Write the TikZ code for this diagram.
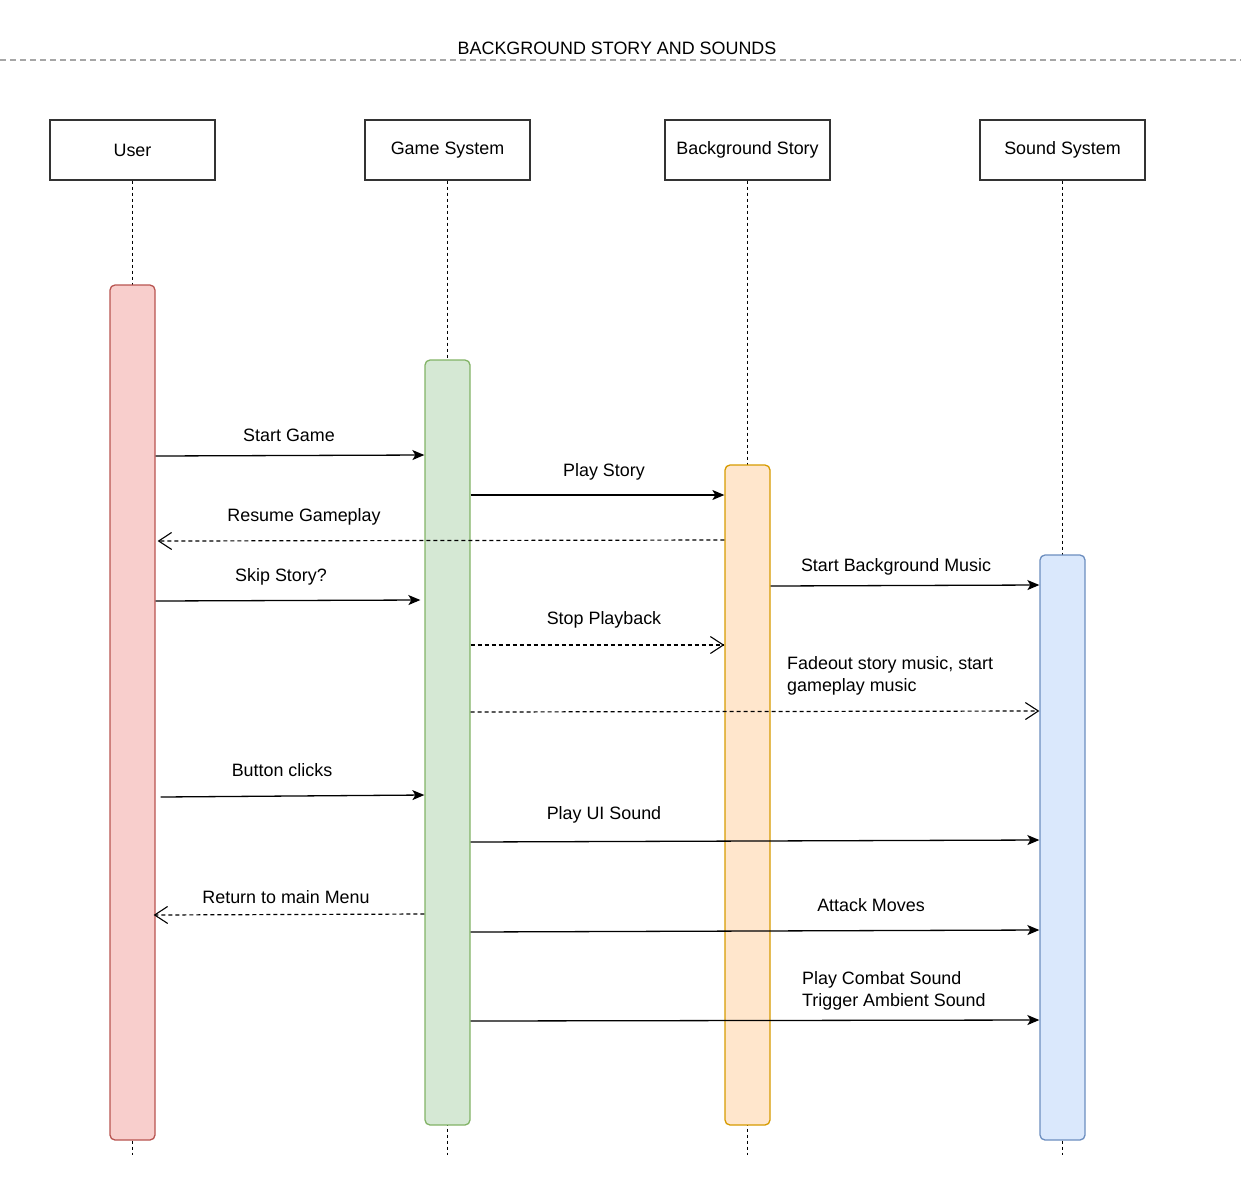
\documentclass[tikz,border=0pt]{standalone}
\usepackage{fontspec}
\setmainfont{Liberation Sans}
\usetikzlibrary{arrows.meta}
\begin{document}
\begin{tikzpicture}[x=1pt,y=-1pt,
  every node/.style={font=\fontsize{17.9}{22}\selectfont},
  head/.style={draw=black!80, line width=1.3pt, minimum width=165pt, minimum height=60pt, inner sep=0pt},
  life/.style={draw=black, line width=1.1pt, dash pattern=on 3pt off 3pt},
  act/.style={line width=1.3pt, rounded corners=5pt, minimum width=45pt, inner sep=0pt},
  msg/.style={line width=1.3pt, -{Stealth[length=12pt,width=10pt,inset=3pt]}},
  ret/.style={line width=1.2pt, dash pattern=on 4pt off 3pt, -{Straight Barb[length=13pt,width=17pt,line width=1.1pt]}},
  lbl/.style={fill=white, inner sep=1pt}
]
\useasboundingbox (0,0) rectangle (1241,1189);
% title
\node (title) at (617,48) {BACKGROUND STORY AND SOUNDS};
\coordinate (tl) at (0,60);
\coordinate (tr) at (1241,60);
\draw[black!35, line width=1.2pt, dash pattern=on 6pt off 4pt] (tl) -- (tr);
% heads
\node[head] (user) at (132.5,150) {User};
\node[head] (game) at (447.5,150) {Game System};
\node[head] (story) at (747.5,150) {Background Story};
\node[head] (sound) at (1062.5,150) {Sound System};
% lifelines
\coordinate (ue) at (132.5,1155);
\coordinate (ge) at (447.5,1155);
\coordinate (se) at (747.5,1155);
\coordinate (oe) at (1062.5,1155);
\draw[life] (user.south) -- (ue);
\draw[life] (game.south) -- (ge);
\draw[life] (story.south) -- (se);
\draw[life] (sound.south) -- (oe);
% activations
\node[act, fill={rgb,255:red,248;green,206;blue,204}, draw={rgb,255:red,184;green,84;blue,80}, minimum height=855pt] (ua) at (132.5,712.5) {};
\node[act, fill={rgb,255:red,213;green,232;blue,212}, draw={rgb,255:red,130;green,179;blue,102}, minimum height=765pt] (ga) at (447.5,742.5) {};
\node[act, fill={rgb,255:red,255;green,230;blue,204}, draw={rgb,255:red,215;green,155;blue,0}, minimum height=660pt] (sa) at (747.5,795) {};
\node[act, fill={rgb,255:red,218;green,232;blue,252}, draw={rgb,255:red,108;green,142;blue,191}, minimum height=585pt] (oa) at (1062.5,847.5) {};
% messages
\draw[msg] (ua.east |- 0,456) -- (ga.west |- 0,455);
\node[lbl] (m1) at (289,435) {Start Game};
\draw[msg] (ga.east |- 0,495) -- (sa.west |- 0,495);
\node[lbl] (m2) at (604,472) {Play Story};
\draw[ret] (sa.west |- 0,540) -- ([xshift=2pt]ua.east |- 0,541);
\node[lbl] (m3) at (304,517) {Resume Gameplay};
\draw[msg] (ua.east |- 0,601) -- ([xshift=-4pt]ga.west |- 0,600);
\node[lbl] (m4) at (281,577) {Skip Story?};
\draw[msg] (sa.east |- 0,586) -- (oa.west |- 0,585);
\node[lbl] (m5) at (896,567) {Start Background Music};
\draw[ret] (ga.east |- 0,645) -- (sa.west |- 0,645);
\node[lbl] (m6) at (604,620) {Stop Playback};
\draw[ret] (ga.east |- 0,712) -- (oa.west |- 0,711);
\node[lbl, anchor=west, align=left] (m7) at (786,676) {Fadeout story music, start\\gameplay music};
\draw[msg] ([xshift=5pt]ua.east |- 0,797) -- (ga.west |- 0,795);
\node[lbl] (m8) at (282,770) {Button clicks};
\draw[msg] (ga.east |- 0,842) -- (oa.west |- 0,840);
\node[lbl] (m9) at (604,815) {Play UI Sound};
\draw[ret] (ga.west |- 0,914) -- ([xshift=-2pt]ua.east |- 0,915);
\node[lbl] (m10) at (286,897) {Return to main Menu};
\draw[msg] (ga.east |- 0,932) -- (oa.west |- 0,930);
\node[lbl] (m11) at (871,905) {Attack Moves};
\draw[msg] (ga.east |- 0,1021) -- (oa.west |- 0,1020);
\node[lbl, anchor=west, align=left] (m12) at (801,991) {Play Combat Sound\\Trigger Ambient Sound};
\end{tikzpicture}
\end{document}
